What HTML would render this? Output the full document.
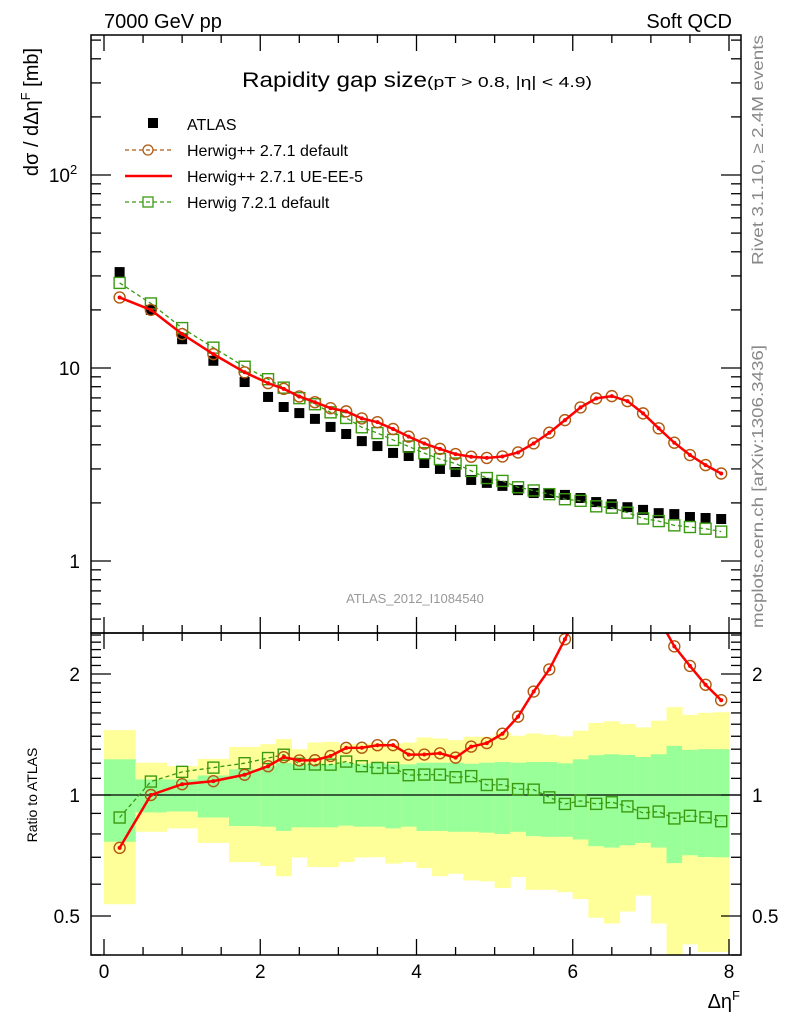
<!DOCTYPE html>
<html><head><meta charset="utf-8"><style>
html,body{margin:0;padding:0;background:#fff;}
svg{display:block;font-family:"Liberation Sans",sans-serif;}
</style></head><body>
<svg id="chart" width="786" height="1024" viewBox="0 0 786 1024" xmlns="http://www.w3.org/2000/svg">
<text x="104" y="28" font-size="20">7000 GeV pp</text>
<text x="732" y="28" font-size="20" text-anchor="end">Soft QCD</text>
<text x="242" y="87" font-size="21" textLength="185" lengthAdjust="spacingAndGlyphs">Rapidity gap size</text>
<text x="427" y="87" font-size="15" textLength="165" lengthAdjust="spacingAndGlyphs">(pT &gt; 0.8, |η| &lt; 4.9)</text>
<text transform="translate(38,112) rotate(-90)" font-size="20" text-anchor="middle">dσ / dΔη<tspan font-size="13" dy="-8">F</tspan><tspan dy="8"> [mb]</tspan></text>
<text transform="translate(37,795) rotate(-90)" font-size="14" text-anchor="middle">Ratio to ATLAS</text>
<text transform="translate(763,35) rotate(-90)" font-size="16" fill="#888" text-anchor="end" textLength="230" lengthAdjust="spacingAndGlyphs">Rivet 3.1.10, ≥ 2.4M events</text>
<text transform="translate(763,345) rotate(-90)" font-size="16" fill="#888" text-anchor="end" textLength="283" lengthAdjust="spacingAndGlyphs">mcplots.cern.ch [arXiv:1306.3436]</text>
<text x="415" y="603" font-size="13" fill="#999" text-anchor="middle">ATLAS_2012_I1084540</text>
<text x="740" y="1008" font-size="20" text-anchor="end">Δη<tspan font-size="13" dy="-8">F</tspan></text>
<g id="bands"></g>
<g id="marks"></g>
<g id="axes"></g>
<g>
<rect x="148" y="118" width="10" height="10" fill="#000"/>
<text x="187" y="130" font-size="16">ATLAS</text>
<line x1="125" y1="150" x2="172" y2="150" stroke="#b05a10" stroke-width="1.2" stroke-dasharray="4,3"/>
<circle cx="148" cy="150" r="5" fill="none" stroke="#b05a10" stroke-width="1.3"/>
<text x="187" y="156" font-size="16">Herwig++ 2.7.1 default</text>
<line x1="125" y1="176" x2="172" y2="176" stroke="#f00" stroke-width="2.5"/>
<text x="187" y="182" font-size="16">Herwig++ 2.7.1 UE-EE-5</text>
<line x1="125" y1="202" x2="172" y2="202" stroke="#3a9a10" stroke-width="1.2" stroke-dasharray="4,3"/>
<rect x="143" y="197" width="10" height="10" fill="none" stroke="#3a9a10" stroke-width="1.3"/>
<text x="187" y="208" font-size="16">Herwig 7.2.1 default</text>
</g>
</svg>
<script>
const xCenters=[0.2,0.6,1.0,1.4,1.8,2.1,2.3,2.5,2.7,2.9,3.1,3.3,3.5,3.7,3.9,4.1,4.3,4.5,4.7,4.9,5.1,5.3,5.5,5.7,5.9,6.1,6.3,6.5,6.7,6.9,7.1,7.3,7.5,7.7,7.9];
const binEdges=[0,0.4,0.8,1.2,1.6,2.0,2.2,2.4,2.6,2.8,3.0,3.2,3.4,3.6,3.8,4.0,4.2,4.4,4.6,4.8,5.0,5.2,5.4,5.6,5.8,6.0,6.2,6.4,6.6,6.8,7.0,7.2,7.4,7.6,7.8,8.0];
const atlas=[31.4,20,14.1,10.9,8.46,7.08,6.28,5.84,5.45,4.95,4.55,4.18,3.94,3.63,3.5,3.22,3.0,2.89,2.63,2.54,2.45,2.33,2.25,2.25,2.2,2.12,2.02,1.97,1.9,1.84,1.77,1.75,1.69,1.67,1.65];
const herwigppDefault=[23.2,20,15.0,11.8,9.5,8.35,7.8,7.12,6.65,6.19,5.96,5.48,5.24,4.83,4.41,4.06,3.81,3.58,3.47,3.42,3.48,3.65,4.07,4.62,5.37,6.25,6.96,7.15,6.74,5.82,4.87,4.1,3.54,3.14,2.84];
const herwigppUEEE5=[23.2,20,15.0,11.8,9.5,8.35,7.8,7.12,6.65,6.19,5.96,5.48,5.24,4.83,4.41,4.06,3.81,3.58,3.47,3.42,3.48,3.65,4.07,4.62,5.37,6.25,6.96,7.15,6.74,5.82,4.87,4.1,3.54,3.14,2.84];
const herwig7=[27.6,21.6,16.1,12.75,10.15,8.75,7.91,6.98,6.49,5.89,5.51,4.93,4.6,4.24,3.92,3.62,3.37,3.2,2.93,2.69,2.6,2.41,2.32,2.22,2.09,2.05,1.92,1.89,1.78,1.66,1.61,1.53,1.5,1.47,1.42];
const yellowHi=[1.45,1.203,1.18,1.23,1.317,1.338,1.377,1.30,1.351,1.356,1.338,1.343,1.351,1.338,1.351,1.391,1.382,1.369,1.396,1.396,1.431,1.404,1.423,1.412,1.399,1.445,1.511,1.525,1.502,1.473,1.531,1.654,1.582,1.601,1.607];
const greenHi=[1.227,1.093,1.093,1.118,1.158,1.18,1.203,1.192,1.192,1.192,1.203,1.196,1.203,1.192,1.192,1.203,1.203,1.203,1.196,1.203,1.208,1.203,1.208,1.208,1.199,1.227,1.256,1.263,1.258,1.243,1.263,1.325,1.295,1.30,1.30];
const greenLo=[0.765,0.905,0.91,0.879,0.837,0.834,0.814,0.831,0.831,0.831,0.839,0.834,0.834,0.826,0.834,0.814,0.814,0.81,0.81,0.806,0.80,0.81,0.79,0.787,0.787,0.775,0.746,0.74,0.75,0.76,0.74,0.677,0.708,0.701,0.70];
const yellowLo=[0.535,0.81,0.826,0.76,0.681,0.666,0.628,0.699,0.662,0.662,0.681,0.699,0.70,0.675,0.681,0.658,0.628,0.637,0.613,0.61,0.587,0.625,0.581,0.581,0.573,0.551,0.495,0.479,0.513,0.562,0.479,0.386,0.425,0.407,0.407];
const xTickLabels=["0","2","4","6","8"];
const mainTickLabels=["1","10","10"];
const ratioTickLabels=["0.5","1","2"];

const NS="http://www.w3.org/2000/svg";
const L=91,R=741,MT=35,MB=633,RT=633,RB=955;
const X=v=>104+v*78.125;
const YM=v=>561-193*Math.log10(v);
const YR=v=>795-402*Math.log10(v);
function mk(tag,attrs,parent){const e=document.createElementNS(NS,tag);for(const k in attrs)e.setAttribute(k,attrs[k]);parent.appendChild(e);return e;}
const svg=document.getElementById('chart');
const defs=mk('defs',{},svg);
const c1=mk('clipPath',{id:'cm'},defs);mk('rect',{x:L,y:MT,width:R-L,height:MB-MT},c1);
const c2=mk('clipPath',{id:'cr'},defs);mk('rect',{x:L,y:RT,width:R-L,height:RB-RT},c2);

const bands=document.getElementById('bands');
bands.setAttribute('clip-path','url(#cr)');
for(let i=0;i<xCenters.length;i++){
  const x0=X(binEdges[i]),x1=X(binEdges[i+1]);
  const y=mk('rect',{x:x0,y:YR(yellowHi[i]),width:x1-x0+0.5,height:YR(yellowLo[i])-YR(yellowHi[i]),fill:'#ffff99'},bands);
  
  
  const g=mk('rect',{x:x0,y:YR(greenHi[i]),width:x1-x0+0.5,height:YR(greenLo[i])-YR(greenHi[i]),fill:'#99ff99'},bands);
  
  
}
const unity=mk('line',{x1:L,x2:R,y1:YR(1),y2:YR(1),stroke:'#000','stroke-width':1.2},bands);



const marks=document.getElementById('marks');
const gm=mk('g',{'clip-path':'url(#cm)'},marks);
const gr=mk('g',{'clip-path':'url(#cr)'},marks);

atlas.forEach((v,i)=>{
  const r=mk('rect',{x:X(xCenters[i])-5,y:YM(v)-5,width:10,height:10,fill:'#000'},gm);
  
  
});
function series(vals,g,Y,color,dash,width,marker,name){
  const pts=vals.map((v,i)=>X(xCenters[i])+','+Y(v)).join(' ');
  const pl=mk('polyline',{points:pts,fill:'none',stroke:color,'stroke-width':width},g);
  if(dash)pl.setAttribute('stroke-dasharray',dash);
  
  
  vals.forEach((v,i)=>{
    const cx=X(xCenters[i]),cy=Y(v);let m;
    if(marker==='circle')m=mk('circle',{cx:cx,cy:cy,r:5.5,fill:'none',stroke:color,'stroke-width':1.4},g);
    else if(marker==='square')m=mk('rect',{x:cx-5.5,y:cy-5.5,width:11,height:11,fill:'none',stroke:color,'stroke-width':1.4},g);
    else m=mk('circle',{cx:cx,cy:cy,r:2,fill:color},g);
    
    
  });
}
const ratio=(a)=>a.map((v,i)=>v/atlas[i]);
series(herwig7,gm,YM,'#3a9a10','4,3',1.3,'square','herwig7');
series(herwigppDefault,gm,YM,'#b05a10','4,3',1.2,'circle','herwigpp-default');
series(herwigppUEEE5,gm,YM,'#ff0000',null,2.5,'dot','herwigpp-ueee5');
series(ratio(herwig7),gr,YR,'#3a9a10','4,3',1.3,'square','herwig7-ratio');
series(ratio(herwigppDefault),gr,YR,'#b05a10','4,3',1.2,'circle','herwigpp-default-ratio');
series(ratio(herwigppUEEE5),gr,YR,'#ff0000',null,2.5,'dot','herwigpp-ueee5-ratio');

const ax=document.getElementById('axes');
function line(x1,y1,x2,y2,w){return mk('line',{x1:x1,y1:y1,x2:x2,y2:y2,stroke:'#000','stroke-width':w||1.3},ax);}
const f1=mk('rect',{x:L,y:MT,width:R-L,height:MB-MT,fill:'none',stroke:'#000','stroke-width':1.5},ax);


const f2=mk('rect',{x:L,y:RT,width:R-L,height:RB-RT,fill:'none',stroke:'#000','stroke-width':1.5},ax);


for(let k=0;k<=16;k++){
  const v=k*0.5,x=X(v),major=(k%4===0),len=major?16:8;
  line(x,MT,x,MT+len);line(x,MB,x,MB-len);
  line(x,RT,x,RT+len);line(x,RB,x,RB-len);
  if(major){
    const t=mk('text',{x:x,y:978,'font-size':19,'text-anchor':'middle'},ax);
    t.textContent=xTickLabels[k/4];
    
    
  }
}
for(let d=-1;d<=2;d++){
  for(let m=1;m<=9;m++){
    const v=m*Math.pow(10,d),y=YM(v);
    if(y<MT||y>MB)continue;
    const len=m===1?20:10;
    line(L,y,L+len,y);line(R,y,R-len,y);
    if(m===1&&d>=0){
      const t=mk('text',{x:d===2?70:80,y:y+7,'font-size':19,'text-anchor':'end'},ax);
      t.textContent=mainTickLabels[d];
      
      
      if(d===2){
        const s=mk('text',{x:70,y:y-1,'font-size':13},ax);
        s.textContent='2';
        
        
      }
    }
  }
}
const rt=[0.4,0.5,0.6,0.7,0.8,0.9,1,1.1,1.2,1.3,1.4,1.5,1.6,1.7,1.8,1.9,2,2.1,2.2,2.3,2.4,2.5];
rt.forEach(v=>{
  const y=YR(v);if(y<RT||y>RB)return;
  const major=(v===0.5||v===1||v===2),len=major?20:10;
  line(L,y,L+len,y);line(R,y,R-len,y);
  if(major){
    const lab=ratioTickLabels[[0.5,1,2].indexOf(v)];
    const t=mk('text',{x:80,y:y+7,'font-size':19,'text-anchor':'end'},ax);
    t.textContent=lab;
    
    
    const t2=mk('text',{x:752,y:y+7,'font-size':19},ax);
    t2.textContent=lab;
    
    
  }
});
</script>
</body></html>
